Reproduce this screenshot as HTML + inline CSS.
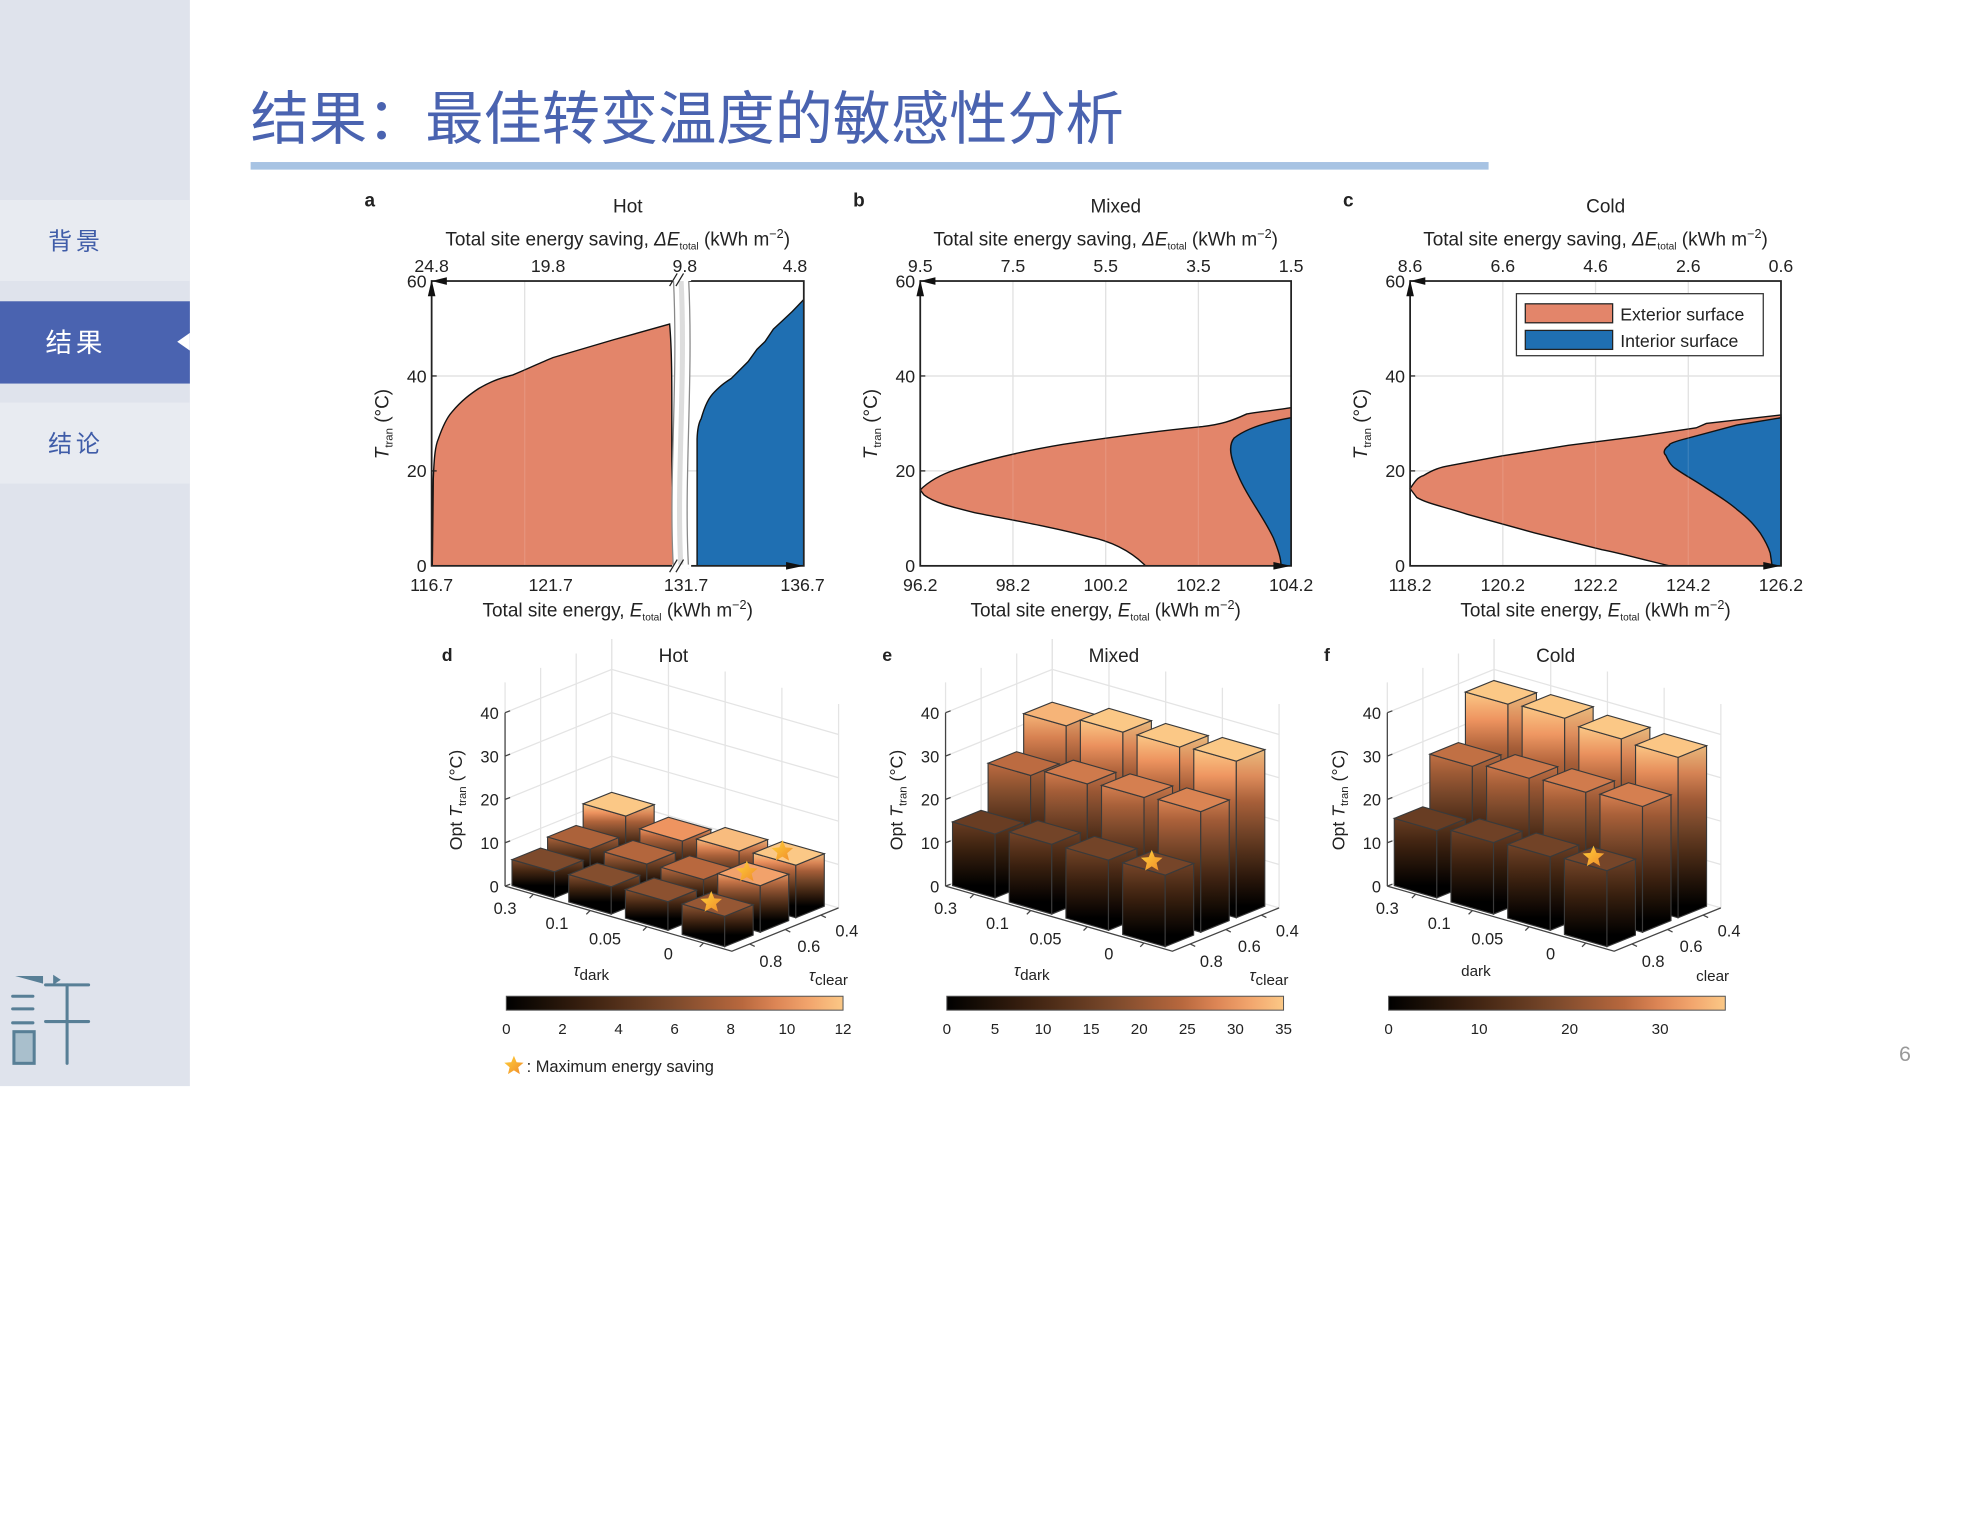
<!DOCTYPE html>
<html><head><meta charset="utf-8"><style>
html,body{margin:0;padding:0;background:#fff;}
svg{display:block;}
text{font-family:"Liberation Sans","Noto Sans CJK SC",sans-serif;}
</style></head><body>
<svg id="s" xmlns="http://www.w3.org/2000/svg" width="1962" height="1535" viewBox="0 0 1550 1212.6" preserveAspectRatio="none">
<defs>
<linearGradient id="starg" x1="0" y1="0" x2="1" y2="1"><stop offset="0" stop-color="#ffd23a"/><stop offset="1" stop-color="#f08a2a"/></linearGradient>
</defs>
<rect x="0" y="0" width="1550" height="1213" fill="#fff"/>
<!-- sidebar -->
<rect x="0" y="0" width="150" height="858" fill="#dfe3ec"/>
<rect x="0" y="158" width="150" height="64" fill="#e8ebf1"/>
<rect x="0" y="238" width="150" height="65" fill="#4a63b0"/>
<polygon points="150,263 140,270 150,277" fill="#fff"/>
<rect x="0" y="318" width="150" height="64" fill="#e8ebf1"/>
<text x="38" y="197" font-size="19" fill="#3f5ca8" letter-spacing="3">背景</text>
<text x="36" y="278" font-size="21" fill="#fff" letter-spacing="3">结果</text>
<text x="38" y="357" font-size="19" fill="#3f5ca8" letter-spacing="3">结论</text>
<g stroke="#587f96" stroke-width="2.4" fill="none" stroke-linecap="round">
<line x1="10" y1="787" x2="26" y2="787"/><line x1="10" y1="797" x2="26" y2="797"/><line x1="10" y1="808" x2="26" y2="808"/>
<rect x="11" y="815" width="16" height="25" fill="#a9bfcc"/>
<line x1="36" y1="778" x2="70" y2="778"/><line x1="36" y1="807" x2="70" y2="807"/><line x1="53" y1="778" x2="53" y2="840"/>
</g>
<polygon points="12,771 34,771 34,777" fill="#587f96"/>
<polygon points="42,770 48,774 42,778" fill="#587f96"/>
<!-- title -->
<text x="198" y="110" font-size="46" fill="#4a63b0">结果：最佳转变温度的敏感性分析</text>
<rect x="198" y="128" width="978" height="6" fill="#a7c3e3"/>
<text x="1505" y="838" font-size="17" fill="#999" text-anchor="middle">6</text>
<g id="top"></g>
<g id="bars"></g>
</svg>
<script>
var S=document.getElementById('s'),NS='http://www.w3.org/2000/svg';
var TOP=document.getElementById('top'),BARS=document.getElementById('bars');
function el(t,a,p,txt){var e=document.createElementNS(NS,t);for(var k in a)e.setAttribute(k,a[k]);if(txt!=null)e.textContent=txt;(p||TOP).appendChild(e);return e;}
function txt(x,y,s,size,anchor,p,extra){var a={x:x,y:y,'font-size':size||14,'text-anchor':anchor||'middle',fill:'#222'};for(var k in extra)a[k]=extra[k];return el('text',a,p,s);}
function tspanText(x,y,parts,size,p){var t=el('text',{x:x,y:y,'font-size':size,'text-anchor':'middle',fill:'#222'},p);parts.forEach(function(q){var s=el('tspan',q[1]||{},t,q[0]);});return t;}
var OR='#e3856a',BL='#1f6fb2';
function chart(x0,x1,lab,title,topT,botT,orange,blue,brk){
 var y0=222,y1=447;
 // grid
 for(var k=1;k<4;k++){var gx=x0+(x1-x0)*k/4;if(!brk||k==1)el('line',{x1:gx,y1:y0,x2:gx,y2:y1,stroke:'#ddd','stroke-width':1});}
 [297,372].forEach(function(gy){el('line',{x1:x0,y1:gy,x2:x1,y2:gy,stroke:'#ddd','stroke-width':1});});
 el('path',{d:orange,fill:OR,stroke:'#111','stroke-width':1.1});
 el('path',{d:blue,fill:BL,stroke:'#111','stroke-width':1.1});
 // redraw grid light on top (semi-transparent)
 for(var k=1;k<4;k++){var gx=x0+(x1-x0)*k/4;if(!brk||k==1)el('line',{x1:gx,y1:y0,x2:gx,y2:y1,stroke:'#fff','stroke-opacity':0.12,'stroke-width':1});}
 el('rect',{x:x0,y:y0,width:x1-x0,height:y1-y0,fill:'none',stroke:'#222','stroke-width':1.4});
 if(brk){el('path',{d:'M532,220 C536,300 528,380 532,449 L544,449 C540,380 548,300 544,220 Z',fill:'#fff',stroke:'none'});
  el('path',{d:'M532,220 C536,300 528,380 532,449',fill:'none',stroke:'#888','stroke-width':1});
  el('path',{d:'M538,220 C542,300 534,380 538,449',fill:'none',stroke:'#bbb','stroke-width':4,'stroke-opacity':0.5});
  el('path',{d:'M544,220 C548,300 540,380 544,449',fill:'none',stroke:'#888','stroke-width':1});
  el('rect',{x:531,y:219,width:15,height:3,fill:'#fff'});el('rect',{x:531,y:446,width:15,height:3,fill:'#fff'});
  el('line',{x1:529,y1:226,x2:535,y2:216,stroke:'#222'});el('line',{x1:534,y1:226,x2:540,y2:216,stroke:'#222'});
  el('line',{x1:529,y1:452,x2:535,y2:442,stroke:'#222'});el('line',{x1:534,y1:452,x2:540,y2:442,stroke:'#222'});
 }
 // arrows
 el('polygon',{points:(x0-3)+','+(y0+12)+' '+x0+','+(y0-1)+' '+(x0+3)+','+(y0+12),fill:'#111'});
 el('polygon',{points:(x0+12)+','+(y0-3)+' '+(x0)+','+y0+' '+(x0+12)+','+(y0+3),fill:'#111'});
 el('polygon',{points:(x1-14)+','+(y1-3)+' '+(x1)+','+y1+' '+(x1-14)+','+(y1+3),fill:'#111'});
 // ticks
 var ys=[[447,'0'],[372,'20'],[297,'40'],[222,'60']];
 ys.forEach(function(q){txt(x0-4,q[0]+5,q[1],14,'end');el('line',{x1:x0,y1:q[0],x2:x0+4,y2:q[0],stroke:'#222'});});
 var xs=brk?[341,433,541,628]:[0,1,2,3,4].map(function(k){return x0+(x1-x0)*k/4;});
 var xb=brk?[341,435,542,634]:xs;
 topT.forEach(function(s,k){txt(xs[k],215,s,14);});
 botT.forEach(function(s,k){txt(xb[k],467,s,14);});
 var cx=(x0+x1)/2;
 txt(x0-53,163,lab,15,'start',null,{'font-weight':'bold'});
 txt(cx+8,168,title,15);
 tspanText(cx,194,[['Total site energy saving, '],['ΔE',{'font-style':'italic'}],['total',{'font-size':8,dy:3}],[' (kWh m',{dy:-3}],['−2',{'font-size':10,dy:-6}],[')',{dy:6}]],15);
 tspanText(cx,487,[['Total site energy, '],['E',{'font-style':'italic'}],['total',{'font-size':8,dy:3}],[' (kWh m',{dy:-3}],['−2',{'font-size':10,dy:-6}],[')',{dy:6}]],15);
 var t=el('text',{transform:'translate('+(x0-34)+',335) rotate(-90)','font-size':15,'text-anchor':'middle',fill:'#222'});
 el('tspan',{'font-style':'italic'},t,'T');el('tspan',{'font-size':9,dy:3},t,'tran');el('tspan',{dy:-3},t,' (°C)');
}
chart(341,635,'a','Hot',['24.8','19.8','9.8','4.8'],['116.7','121.7','131.7','136.7'],
 'M341,447 L341.5,447 C342,420 342,390 342.3,378.5 C343,360 344,352 346.3,346.7 C350,336 353,330 357,325.5 C365,316 372,311 378.2,306.9 C390,300 398,298 404.9,296.3 C418,291 428,286 436.8,282.5 L484.7,268.4 L529,256 C533,300 528,380 534,447 Z',
 'M550.7,447 L550.7,346.7 C551,338 552,334 553.9,330.8 C557,320 560,314 564.5,309.6 C570,304 573,302 577.8,298.9 L591,285.7 L598,276 L604.4,269.8 L611,260 L617.7,253.8 L626,246 L635,236.6 L635,447 Z',true);
chart(727,1020,'b','Mixed',['9.5','7.5','5.5','3.5','1.5'],['96.2','98.2','100.2','102.2','104.2'],
 'M905,447 C895,437 880,428 860,424 C830,416 800,411 770,405 C750,400 738,397 730,391 L727,387 C732,382 740,376 755,371 C780,363 810,356 840,351 C880,345 910,341 950,337 C965,335 972,333 985,327 C995,325 1010,324 1020,322 L1020,447 Z',
 'M1020,330 C1003,333 985,338 975,346 C970,352 972,362 978,375 C985,392 998,408 1006,425 C1010,435 1012,441 1012,447 L1020,447 Z',false);
chart(1114,1407,'c','Cold',['8.6','6.6','4.6','2.6','0.6'],['118.2','120.2','122.2','124.2','126.2'],
 'M1318.7,447 C1290,440 1280,437 1265.5,434.2 L1212.4,421 L1159.2,406.3 C1140,400 1128,398 1119.3,393 L1114,386 C1118,380 1120,377 1124.6,375.7 C1132,371 1138,369 1146,367.7 L1185.8,360.3 L1239,351.8 L1292,345.1 L1340,338 L1348,334.5 L1407,327.8 L1407,447 Z',
 'M1407,330 L1372,335.8 L1332,346.5 C1322,349 1318,351 1318.7,351.8 C1314,355 1314,358 1316,359.7 C1318,364 1320,368 1324,370.4 C1332,376 1338,379 1345,383.7 C1358,392 1366,397 1372,402.3 C1382,410 1386,415 1390.5,421 C1395,428 1397,432 1398.5,437 L1400,447 L1407,447 Z',false);
// legend
el('rect',{x:1198,y:232,width:195,height:49,fill:'#fff',stroke:'#333','stroke-width':1});
el('rect',{x:1205,y:240,width:69,height:15,fill:OR,stroke:'#222'});
el('rect',{x:1205,y:261,width:69,height:15,fill:BL,stroke:'#222'});
txt(1280,253,'Exterior surface',14,'start');txt(1280,274,'Interior surface',14,'start');

// ===== 3D bars =====
var CM=[[0,[0,0,0]],[0.25,[61,34,16]],[0.5,[125,74,44]],[0.7,[184,104,62]],[0.85,[238,148,96]],[1,[251,200,134]]];
function cmap(v){v=Math.max(0,Math.min(1,v));for(var k=1;k<CM.length;k++){if(v<=CM[k][0]){var a=CM[k-1],b=CM[k],t=(v-a[0])/(b[0]-a[0]);return b[1].map(function(c,i){return Math.round(a[1][i]+(c-a[1][i])*t);});}}return CM[CM.length-1][1];}
function rgb(c,f){f=f||1;return 'rgb('+c.map(function(x){return Math.round(x*f);}).join(',')+')';}
var gid=0,DEFS=S.querySelector('defs');
function grad(ytop,ybot,h,cmax,f){var id='g'+(gid++);var g=el('linearGradient',{id:id,gradientUnits:'userSpaceOnUse',x1:0,y1:ytop,x2:0,y2:ybot},DEFS);
 for(var k=0;k<=6;k++){var fr=k/6;el('stop',{offset:fr,'stop-color':rgb(cmap((1-fr)*h/cmax),f)},g);}return 'url(#'+id+')';}
var dA=[44.8,12.84],dB=[28.1,-11.4],ZS=3.425;
function P(O,i,j,z){return [O[0]+i*dA[0]+j*dB[0],O[1]+i*dA[1]+j*dB[1]-z*ZS];}
function pts(a){return a.map(function(p){return p[0].toFixed(1)+','+p[1].toFixed(1);}).join(' ');}
function star(cx,cy,r){var a=[];for(var k=0;k<10;k++){var rr=k%2?r*0.45:r,an=-Math.PI/2+k*Math.PI/5;a.push([cx+rr*Math.cos(an),cy+rr*Math.sin(an)]);}el('polygon',{points:pts(a),fill:'url(#starg)'},BARS);}
function bar3d(O,lab,title,H,cmax,ticks,stars,dx,tauLab){
 var g=BARS;
 // walls grid
 var zt=47;
 for(var j=0;j<=3;j++){var a=P(O,0,j,0),b=P(O,0,j,zt);el('line',{x1:a[0],y1:a[1],x2:b[0],y2:b[1],stroke:'#e4e4e4'},g);}
 for(var i=0;i<=4;i++){var a=P(O,i,3,0),b=P(O,i,3,zt);el('line',{x1:a[0],y1:a[1],x2:b[0],y2:b[1],stroke:'#e4e4e4'},g);}
 for(var z=0;z<=40;z+=10){var a=P(O,0,0,z),b=P(O,0,3,z),c=P(O,4,3,z);el('polyline',{points:pts([a,b,c]),fill:'none',stroke:'#e4e4e4'},g);}
 var a=P(O,0,0,0),b=P(O,4,0,0),c=P(O,4,3,0);
 el('polyline',{points:pts([a,b,c]),fill:'none',stroke:'#444','stroke-width':1},g);
 var t1=P(O,0,0,40);el('line',{x1:a[0],y1:a[1],x2:t1[0],y2:t1[1],stroke:'#444'},g);
 for(var z=0;z<=40;z+=10){var p=P(O,0,0,z);el('line',{x1:p[0],y1:p[1],x2:p[0]+4,y2:p[1]-1.5,stroke:'#444'},g);txt(p[0]-5,p[1]+5,String(z),13,'end',g);}
 for(var i=0;i<4;i++){var p=P(O,i+0.5,0,0);el('line',{x1:p[0],y1:p[1],x2:p[0]-3,y2:p[1]+3,stroke:'#444'},g);}
 for(var j=0;j<3;j++){var p=P(O,4,j+0.5,0);el('line',{x1:p[0],y1:p[1],x2:p[0]+4,y2:p[1]+2,stroke:'#444'},g);}
 for(var j=2;j>=0;j--)for(var i=0;i<4;i++){
  var h=H[j][i],i0=i+0.06,i1=i+0.81,j0=j+0.1,j1=j+0.9;
  var f0=P(O,i0,j0,0),f1=P(O,i1,j0,0),s1=P(O,i1,j1,0),ft0=P(O,i0,j0,h),ft1=P(O,i1,j0,h),st1=P(O,i1,j1,h),bt=P(O,i0,j1,h);
  el('polygon',{points:pts([f0,f1,ft1,ft0]),fill:grad(ft0[1],f0[1],h,cmax,1),stroke:'#3a3a3a','stroke-width':0.9},g);
  el('polygon',{points:pts([f1,s1,st1,ft1]),fill:grad(st1[1],s1[1],h,cmax,0.93),stroke:'#3a3a3a','stroke-width':0.9},g);
  el('polygon',{points:pts([ft0,ft1,st1,bt]),fill:rgb(cmap(h/cmax)),stroke:'#3a3a3a','stroke-width':0.9},g);
  if(stars.some(function(s){return s[0]==j&&s[1]==i;})){var c=P(O,(i0+i1)/2-0.05,(j0+j1)/2-0.1,h);star(c[0],c[1]-2,9);}
 }
 // labels
 [['0.3',399,722],['0.1',440,734],['0.05',478,746],['0',528,758],['0.8',609,764],['0.6',639,752],['0.4',669,740]].forEach(function(q){txt(q[1]+dx,q[2],q[0],13,'middle',g);});
 if(tauLab){var t=el('text',{x:453+dx,y:771,'font-size':13,'text-anchor':'start',fill:'#222'},g);el('tspan',{'font-style':'italic'},t,'τ');el('tspan',{'font-size':12,dy:3},t,'dark');
  t=el('text',{x:639+dx,y:775,'font-size':13,'text-anchor':'start',fill:'#222'},g);el('tspan',{'font-style':'italic'},t,'τ');el('tspan',{'font-size':12,dy:3},t,'clear');}
 else{txt(469+dx,771,'dark',12,'middle',g);txt(656+dx,775,'clear',12,'middle',g);}
 var t=el('text',{transform:'translate('+(365+dx)+',632) rotate(-90)','font-size':14,'text-anchor':'middle',fill:'#222'},g);
 el('tspan',{},t,'Opt ');el('tspan',{'font-style':'italic'},t,'T');el('tspan',{'font-size':9,dy:3},t,'tran');el('tspan',{dy:-3},t,' (°C)');
 txt(349+dx,522,lab,14,'start',g,{'font-weight':'bold'});txt(532+dx,523,title,15,'middle',g);
 // colorbar
 var id='cb'+dx,lg=el('linearGradient',{id:id,x1:0,y1:0,x2:1,y2:0},DEFS);
 for(var k=0;k<=10;k++)el('stop',{offset:k/10,'stop-color':rgb(cmap(k/10))},lg);
 el('rect',{x:400+dx,y:787,width:266,height:11,fill:'url(#'+id+')',stroke:'#555','stroke-width':0.8},g);
 ticks.forEach(function(v){var x=400+dx+266*v/cmax;txt(x,817,String(v),12,'middle',g);});
}
bar3d([399,700],'d','Hot',[[6.0,6.3,6.6,7.0],[7.9,8.2,8.4,10.7],[12.2,10.2,11.6,12.1]],12,[0,2,4,6,8,10,12],[[0,3],[1,3],[2,3]],0,true);
bar3d([747,700],'e','Mixed',[[14.7,16.1,16.2,16.5],[24.9,26.7,27.3,27.8],[33.0,35.3,35.6,36.1]],35,[0,5,10,15,20,25,30,35],[[0,3]],348,true);
bar3d([1096,700],'f','Cold',[[15.5,16.5,17,17.5],[27,28,28.5,29],[38,38.5,37.5,37]],37.2,[0,10,20,30],[[0,3]],697,false);
star(406,842,8);
txt(416,847,': Maximum energy saving',13,'start',BARS);
</script>
</body></html>
